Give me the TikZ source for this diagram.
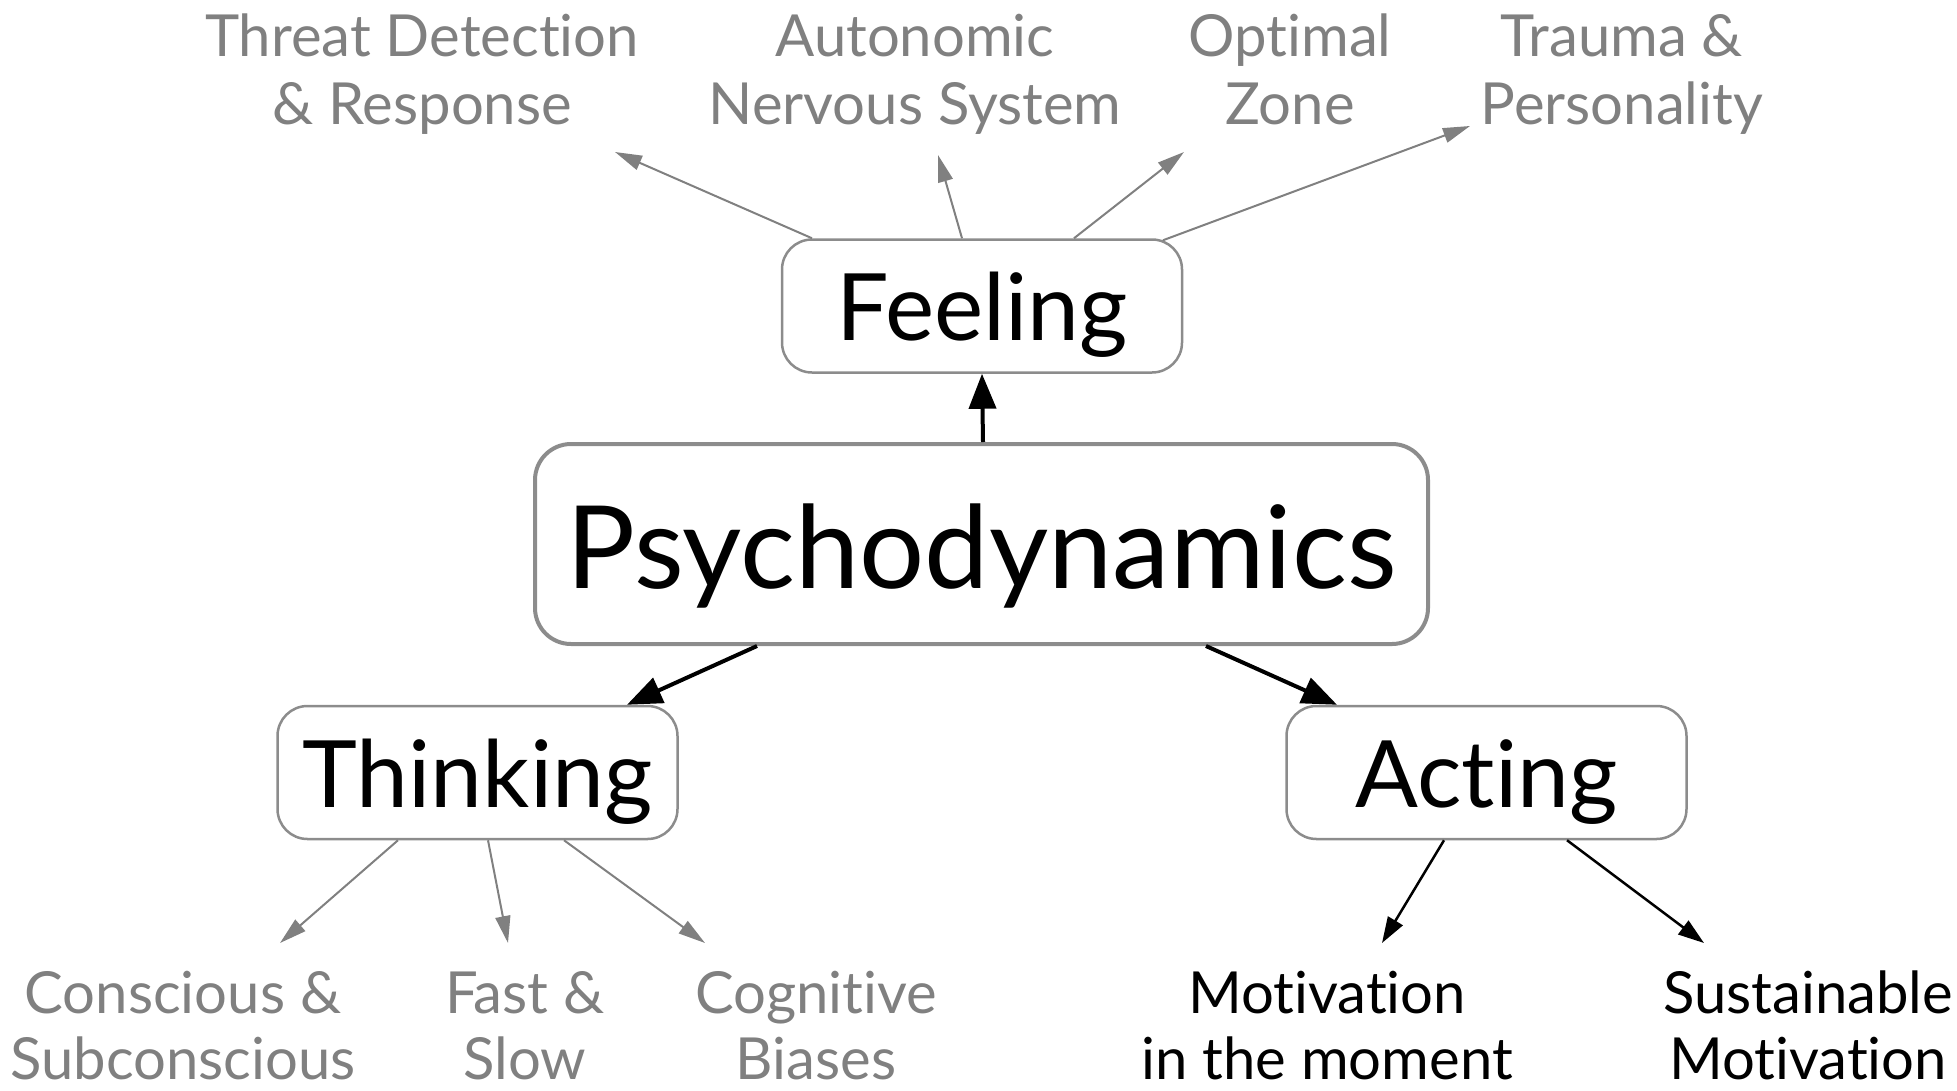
\documentclass[tikz,border=0pt]{standalone}
\usepackage{fontspec}
\setmainfont{Lato}[Ligatures={NoCommon,NoRare,NoContextual}]
\usetikzlibrary{arrows.meta,calc}
\definecolor{soft}{HTML}{808080}
\definecolor{frame}{HTML}{8C8C8C}

% two-line label whose baseline is that of its first line
\newcommand{\twoline}[2]{\begin{tabular}[t]{@{}c@{}}#1\\#2\end{tabular}}

\begin{document}
\begin{tikzpicture}[x=1pt,y=-1pt,
  box/.style={draw=frame, line width=2.5pt, rounded corners=30pt, inner sep=0pt,
    minimum width=400pt, minimum height=133pt,
    font=\fontsize{93}{110}\selectfont, text height=79pt, text depth=10pt},
  core/.style={draw=frame, line width=4pt, rounded corners=36pt, inner sep=0pt,
    minimum width=893pt, minimum height=200pt,
    font=\fontsize{115}{130}\selectfont, text height=100pt, text depth=12pt},
  sub/.style={font=\fontsize{58}{68}\selectfont, inner sep=0pt, anchor=base},
  low/.style={font=\fontsize{58}{66}\selectfont},
  muted/.style={sub, text=soft},
  plain/.style={sub, text=black},
  link/.style={draw=soft, line width=2pt, -{Triangle[length=27pt,width=15pt]}},
  dark/.style={draw=black, line width=2.5pt, -{Triangle[length=26pt,width=17pt]}},
  main/.style={draw=black, line width=4pt, -{Triangle[length=35pt,width=27pt]}}
]
\path[use as bounding box] (0,0) rectangle (1957,1090);

% central concept and its three branches
\node[core] (psy) at (981.5,544) {Psychodynamics};
\node[box] (feel) at (982,306) {Feeling};
\node[box] (think) at (477.5,772.5) {Thinking};
\node[box] (act) at (1486.5,772.5) {Acting};

% aspects of feeling
\node[muted] (threat) at (422,56) {\twoline{Threat Detection}{\& Response}};
\node[muted] (ans) at (915,56) {\twoline{Autonomic}{Nervous System}};
\node[muted] (zone) at (1290,56) {\twoline{Optimal}{Zone}};
\node[muted] (trauma) at (1622,56) {\twoline{Trauma \&}{Personality}};

% aspects of thinking
\node[muted, low] (cons) at (183,1013) {\twoline{Conscious \&}{Subconscious}};
\node[muted, low] (fast) at (525,1013) {\twoline{Fast \&}{Slow}};
\node[muted, low] (bias) at (816,1013) {\twoline{Cognitive}{Biases}};

% aspects of acting
\node[plain, low] (moment) at (1327,1013) {\twoline{Motivation}{in the moment}};
\node[plain, low] (sustain) at (1808,1013) {\twoline{Sustainable}{Motivation}};

% main connectors
\draw[main] ($(psy.north)+(1.5,0)$) -- (feel.south);
\draw[main] ($(psy.south)+(-224.5,0)$) -- ($(think.north)+(149.5,0)$);
\draw[main] ($(psy.south)+(224.5,0)$) -- ($(act.north)+(-149.5,0)$);

% feeling fan-out
\draw[link] ($(feel.north)+(-170,0)$) -- ($(threat.base)+(193,96)$);
\draw[link] ($(feel.north)+(-20,0)$) -- ($(ans.base)+(23,99)$);
\draw[link] ($(feel.north)+(92,0)$) -- ($(zone.base)+(-106,96)$);
\draw[link] ($(feel.north)+(181,2)$) -- ($(trauma.base)+(-152,70)$);

% thinking fan-out
\draw[link] ($(think.south)+(-79.5,0)$) -- ($(cons.base)+(97,-70)$);
\draw[link] ($(think.south)+(10.5,0)$) -- ($(fast.base)+(-17,-70)$);
\draw[link] ($(think.south)+(86.5,0)$) -- ($(bias.base)+(-111,-70)$);

% acting fan-out
\draw[dark] ($(act.south)+(-42.5,0)$) -- ($(moment.base)+(55,-70)$);
\draw[dark] ($(act.south)+(80.5,0)$) -- ($(sustain.base)+(-104,-70)$);
\end{tikzpicture}
\end{document}
